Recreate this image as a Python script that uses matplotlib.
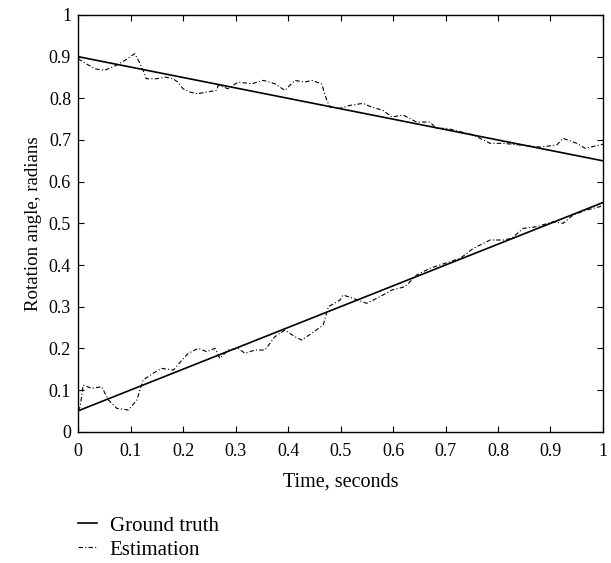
import matplotlib
matplotlib.use('Agg')
import matplotlib.pyplot as plt
from matplotlib.ticker import FuncFormatter

plt.rcParams['font.family'] = 'serif'
plt.rcParams['font.serif'] = ['Liberation Serif', 'DejaVu Serif']

# Ground truth lines (straight)
truth_t = [0.0, 1.0]
truth_upper = [0.90, 0.65]
truth_lower = [0.05, 0.55]

# Estimated upper angle
est_upper_t = [0.0, 0.01, 0.032, 0.05, 0.073, 0.089, 0.108, 0.115, 0.124, 0.13,
               0.15, 0.166, 0.181, 0.19, 0.2, 0.213, 0.228, 0.245, 0.264, 0.267,
               0.286, 0.305, 0.331, 0.353, 0.375, 0.394, 0.413, 0.432, 0.445, 0.464,
               0.474, 0.48, 0.499, 0.518, 0.543, 0.559, 0.581, 0.598, 0.619, 0.645,
               0.67, 0.683, 0.702, 0.728, 0.753, 0.785, 0.81, 0.842, 0.88, 0.912,
               0.924, 0.95, 0.966, 0.994, 1.0]
est_upper = [0.895, 0.887, 0.871, 0.867, 0.879, 0.891, 0.907, 0.891, 0.867, 0.847,
             0.847, 0.851, 0.847, 0.839, 0.823, 0.815, 0.811, 0.815, 0.819, 0.831,
             0.823, 0.839, 0.835, 0.843, 0.835, 0.819, 0.843, 0.839, 0.843, 0.835,
             0.795, 0.779, 0.776, 0.783, 0.788, 0.779, 0.771, 0.755, 0.76, 0.743,
             0.743, 0.728, 0.728, 0.72, 0.712, 0.692, 0.692, 0.688, 0.683, 0.688,
             0.704, 0.692, 0.68, 0.688, 0.69]

# Estimated lower angle
est_lower_t = [0.0, 0.004, 0.01, 0.026, 0.045, 0.058, 0.074, 0.096, 0.112, 0.124,
               0.143, 0.159, 0.182, 0.198, 0.21, 0.229, 0.245, 0.261, 0.27, 0.286,
               0.305, 0.318, 0.337, 0.356, 0.375, 0.394, 0.413, 0.426, 0.445, 0.467,
               0.477, 0.499, 0.505, 0.524, 0.55, 0.575, 0.598, 0.623, 0.645, 0.67,
               0.699, 0.728, 0.753, 0.785, 0.81, 0.826, 0.848, 0.874, 0.905, 0.924,
               0.943, 0.969, 0.994, 1.0]
est_lower = [0.05, 0.06, 0.112, 0.104, 0.108, 0.076, 0.056, 0.052, 0.076, 0.124,
             0.14, 0.152, 0.148, 0.172, 0.188, 0.2, 0.192, 0.2, 0.176, 0.196,
             0.2, 0.188, 0.196, 0.196, 0.228, 0.244, 0.228, 0.22, 0.236, 0.256,
             0.3, 0.316, 0.328, 0.32, 0.308, 0.324, 0.34, 0.348, 0.376, 0.392,
             0.404, 0.416, 0.44, 0.46, 0.46, 0.464, 0.488, 0.492, 0.504, 0.5,
             0.52, 0.532, 0.54, 0.545]

ticks = [0, 0.1, 0.2, 0.3, 0.4, 0.5, 0.6, 0.7, 0.8, 0.9, 1]

fig = plt.figure(figsize=(6.11, 5.63), dpi=100)
ax = fig.add_axes([0.1277, 0.2332, 0.8592, 0.7402])

ax.plot(truth_t, truth_upper, color='black', linewidth=1.2, label='Ground truth')
ax.plot(truth_t, truth_lower, color='black', linewidth=1.2)
ax.plot(est_upper_t, est_upper, color='black', linewidth=0.8,
        dashes=(4, 2, 1, 2), label='Estimation')
ax.plot(est_lower_t, est_lower, color='black', linewidth=0.8, dashes=(4, 2, 1, 2))

ax.set_xlim(0, 1)
ax.set_ylim(0, 1)
ax.set_xticks(ticks)
ax.set_yticks(ticks)
fmt = FuncFormatter(lambda v, p: '%g' % v)
ax.xaxis.set_major_formatter(fmt)
ax.yaxis.set_major_formatter(fmt)
ax.tick_params(direction='in', top=True, right=True, length=4, width=0.8,
               labelsize=13)
ax.tick_params(axis='x', pad=8)
ax.tick_params(axis='y', pad=5)
for s in ax.spines.values():
    s.set_linewidth(1.0)

ax.set_xlabel('Time, seconds', fontsize=14.5, labelpad=9)
ax.set_ylabel('Rotation angle, radians', fontsize=13.6, labelpad=5)

fig.legend(loc='upper left', bbox_to_anchor=(0.1277, 0.0835), frameon=False,
           fontsize=15, handlelength=0.9, handletextpad=0.62, labelspacing=0.22,
           borderpad=0, borderaxespad=0)

fig.savefig('out.png', dpi=100)
plt.close(fig)
